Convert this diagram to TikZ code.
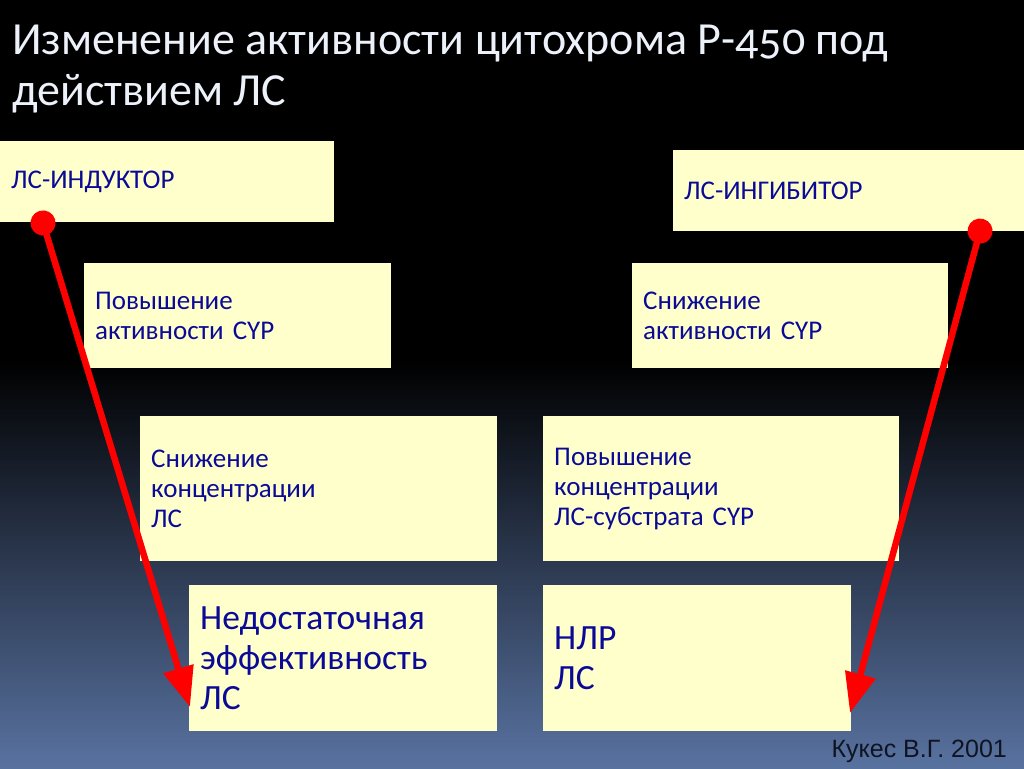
\documentclass[tikz,border=0pt]{standalone}
\usepackage{fontspec}
\setmainfont{Carlito}
\newfontfamily\titlefont[Numbers=OldStyle]{Carlito}
\newfontfamily\creditfont{Liberation Sans}
\usetikzlibrary{arrows.meta}

\definecolor{cardfill}{RGB}{255,255,204}
\definecolor{cardtext}{RGB}{10,10,150}
\definecolor{linkred}{RGB}{255,0,0}
\definecolor{slidebottom}{RGB}{88,114,160}
\definecolor{titlewhite}{RGB}{236,241,250}
\definecolor{credittext}{RGB}{16,20,34}

\begin{document}
\begin{tikzpicture}[x=1pt,y=-1pt,
    card/.style={rectangle,fill=cardfill,text=cardtext,anchor=north west,align=left,
      inner xsep=11pt,inner ysep=0pt,font=\fontsize{27}{30}\selectfont},
    bigcard/.style={card,font=\fontsize{35.5}{40}\selectfont},
    link/.style={draw=linkred,line width=6.5pt,
      {Circle[length=25pt]}-{Triangle[length=40pt,width=30pt]}}]
  \useasboundingbox (0,0) rectangle (1024,768);
  \fill[black] (0,0) rectangle (1024,361);
  \shade[top color=black,bottom color=slidebottom] (0,360) rectangle (1024,768);

  \node (title) [anchor=north west,align=left,text=titlewhite,inner sep=0pt,
    font=\titlefont\fontsize{46}{51}\selectfont] at (12,25)
    {Изменение активности цитохрома Р-450 под\\действием ЛС};

  \node (induktor) [card,text width=312pt,minimum height=81pt] at (0,141) {ЛС-ИНДУКТОР};
  \node (ingibitor) [card,text width=329pt,minimum height=81pt] at (673,150) {ЛС-ИНГИБИТОР};
  \node (actup) [card,text width=285pt,minimum height=105pt] at (84,263)
    {Повышение\\активности CYP};
  \node (actdown) [card,text width=294pt,minimum height=105pt] at (632,263)
    {Снижение\\активности CYP};
  \node (concdown) [card,text width=335pt,minimum height=145pt] at (140,416)
    {Снижение\\концентрации\\ЛС};
  \node (concup) [card,text width=334pt,minimum height=145pt] at (543,416)
    {Повышение\\концентрации\\ЛС-субстрата CYP};
  \node (weak) [bigcard,text width=286pt,minimum height=146pt] at (189,585)
    {Недостаточная\\эффективность\\ЛС};
  \node (adverse) [bigcard,text width=286pt,minimum height=146pt] at (543,585)
    {НЛР\\ЛС};

  \node (credit) [anchor=base east,text=credittext,inner sep=0pt,
    font=\creditfont\fontsize{25}{30}\selectfont] at (1007,757) {Кукес В.Г. 2001};

  \coordinate (indfrom) at (39.4,211);
  \coordinate (indto) at (190,707);
  \draw[link] (indfrom) -- (indto);
  \coordinate (ingfrom) at (983.3,219);
  \coordinate (ingto) at (850,713);
  \draw[link] (ingfrom) -- (ingto);
\end{tikzpicture}
\end{document}
